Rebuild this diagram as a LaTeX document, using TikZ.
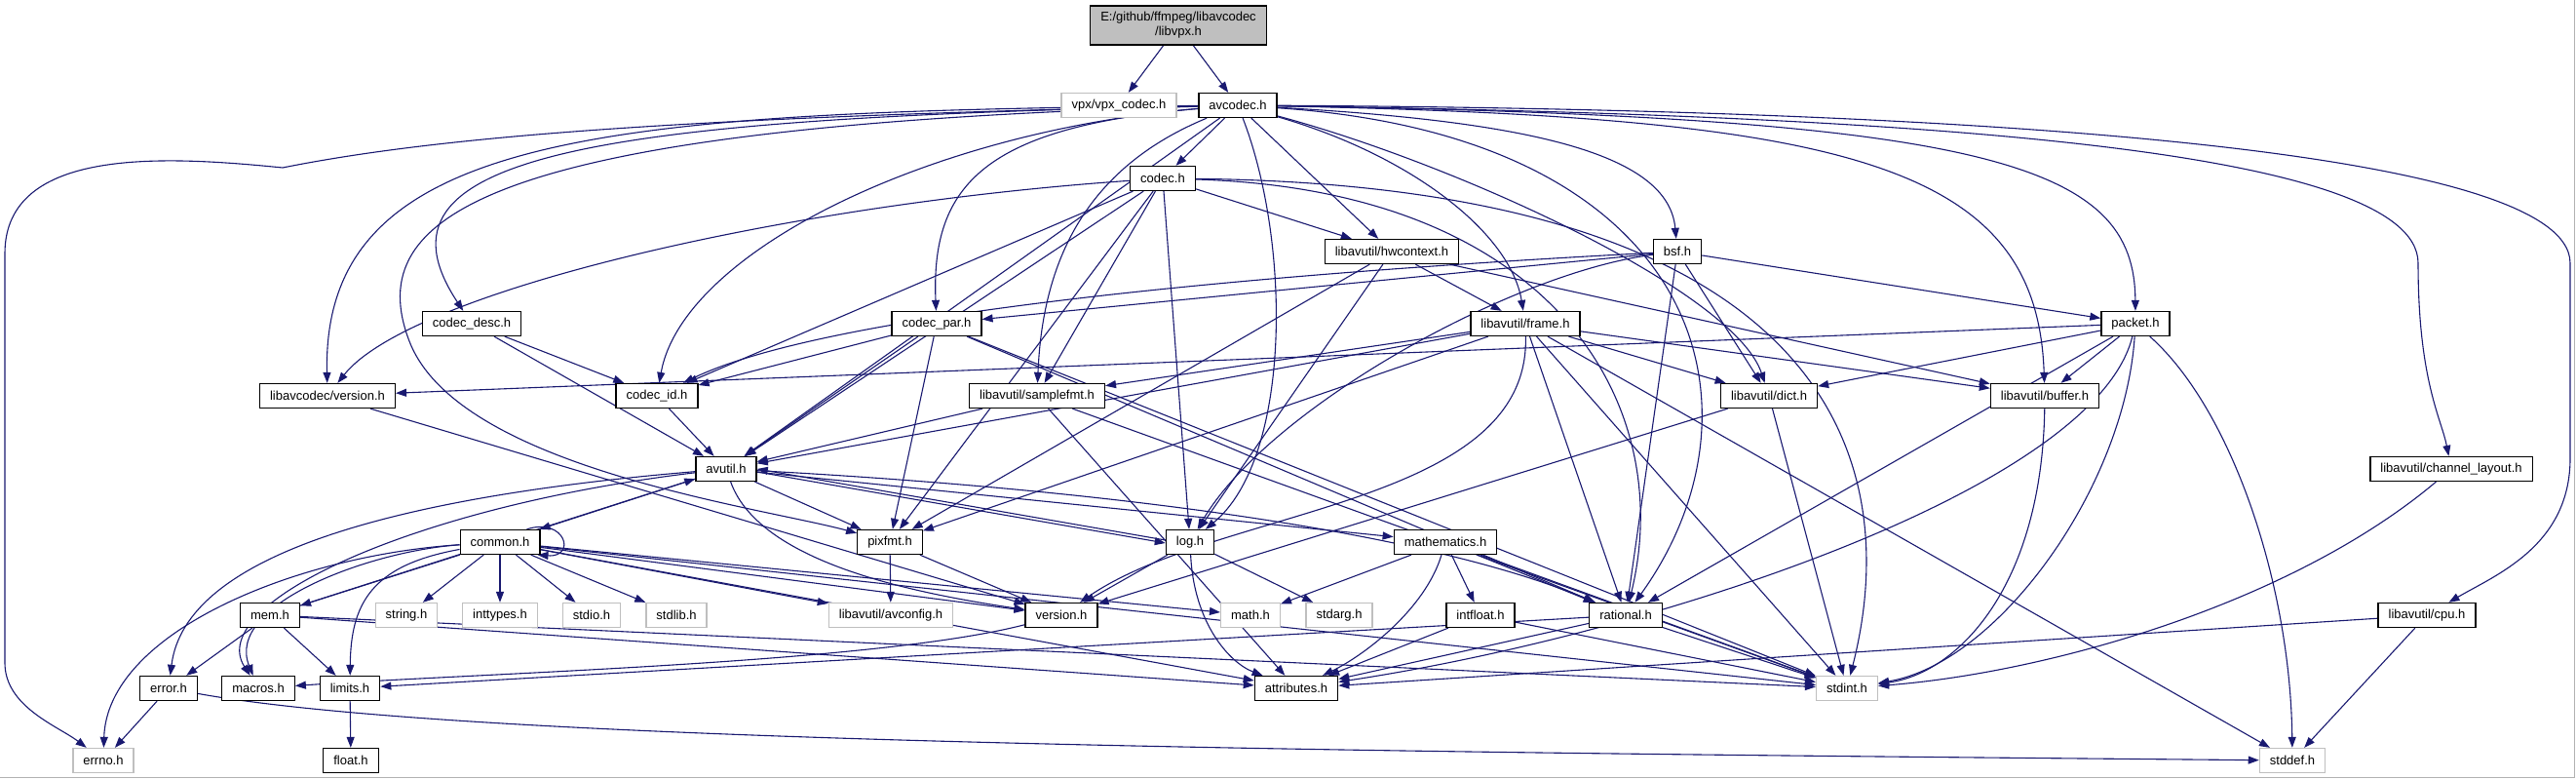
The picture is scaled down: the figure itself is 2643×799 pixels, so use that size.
\documentclass[tikz,border=0pt]{standalone}
\usepackage{fontspec}
\setmainfont{Liberation Sans}
\usepackage{tikz}
\usetikzlibrary{arrows.meta,backgrounds}
\definecolor{edgeblue}{RGB}{25,25,112}
\definecolor{extgrey}{RGB}{191,191,191}
\definecolor{framegrey}{RGB}{178,178,178}

\begin{document}
\begin{tikzpicture}[
        x=1pt,
        y=-1pt,
        dep edge/.style={edgeblue,line width=1.1pt,->,>={Triangle[length=11pt,width=8pt]}},
        file node/.style={draw=black,line width=1.3pt,fill=white,minimum height=25pt,
            inner xsep=10.5pt,inner ysep=0pt,font=\fontsize{13}{15}\selectfont},
        ext node/.style={file node,draw=extgrey},
        root node/.style={file node,fill=extgrey,minimum height=40pt,align=center}
    ]
        \useasboundingbox (0,0) rectangle (2643,799);

        % The edge of the captured frame.
        \draw[framegrey,line width=1.5pt] (2641.5,0) -- (2641.5,797.5) -- (0,797.5);

        % The file itself and the headers of the upper rows.
        \node[root node] (libvpx) at (1209,26) {E:/github/ffmpeg/libavcodec\\/libvpx.h};
        \node[ext node] (vpxcodec) at (1148,108) {vpx/vpx\_codec.h};
        \node[file node] (avcodec) at (1270,108) {avcodec.h};
        \node[file node] (codec) at (1193,183) {codec.h};
        \node[file node] (hwcontext) at (1428,258) {libavutil/hwcontext.h};
        \node[file node] (bsf) at (1721,258) {bsf.h};
        \node[file node] (codecdesc) at (484,332) {codec\_desc.h};
        \node[file node] (codecpar) at (961,332) {codec\_par.h};
        \node[file node] (frame) at (1565,332) {libavutil/frame.h};
        \node[file node] (packet) at (2191,332) {packet.h};
        \node[file node] (lavcversion) at (336,406) {libavcodec/version.h};
        \node[file node] (codecid) at (674,406) {codec\_id.h};
        \node[file node] (samplefmt) at (1064,406) {libavutil/samplefmt.h};
        \node[file node] (dict) at (1815,406) {libavutil/dict.h};
        \node[file node] (buffer) at (2098,406) {libavutil/buffer.h};

        % The libavutil headers and the system headers further down.
        \node[file node] (avutil) at (745,481) {avutil.h};
        \node[file node] (chlayout) at (2515,481) {libavutil/channel\_layout.h};
        \node[file node] (common) at (513,556) {common.h};
        \node[file node] (pixfmt) at (913,556) {pixfmt.h};
        \node[file node] (log) at (1221,556) {log.h};
        \node[file node] (mathematics) at (1483,556) {mathematics.h};
        \node[file node] (mem) at (277,631) {mem.h};
        \node[ext node] (stringh) at (417,631) {string.h};
        \node[ext node] (inttypes) at (513,631) {inttypes.h};
        \node[ext node] (stdio) at (607,631) {stdio.h};
        \node[ext node] (stdlib) at (694,631) {stdlib.h};
        \node[ext node] (avconfig) at (914,631) {libavutil/avconfig.h};
        \node[file node] (version) at (1089,631) {version.h};
        \node[ext node] (math) at (1283,631) {math.h};
        \node[ext node] (stdarg) at (1374,631) {stdarg.h};
        \node[file node] (intfloat) at (1519,631) {intfloat.h};
        \node[file node] (rational) at (1668,631) {rational.h};
        \node[file node] (cpu) at (2490,631) {libavutil/cpu.h};
        \node[file node] (error) at (173,706) {error.h};
        \node[file node] (macros) at (265,706) {macros.h};
        \node[file node] (limits) at (359,706) {limits.h};
        \node[file node] (attributes) at (1330,706) {attributes.h};
        \node[ext node] (stdint) at (1895,706) {stdint.h};
        \node[ext node] (errno) at (106,780) {errno.h};
        \node[file node] (float) at (360,780) {float.h};
        \node[ext node] (stddef) at (2352,780) {stddef.h};

        \begin{scope}[on background layer]
        % Includes of the file itself.
        \draw[dep edge] (libvpx) -- (vpxcodec);
        \draw[dep edge] (libvpx) -- (avcodec);

        % Includes of avcodec.h, the long ones bent round the sides.
        \draw[dep edge] (avcodec) .. controls (700,120) and (450,140) .. (290,172)
            .. controls (170,160) and (5,150) .. (5,260) -- (5,680)
            .. controls (5,725) and (60,745) .. (errno);
        \draw[dep edge] (avcodec) .. controls (2000,112) and (2637,150) .. (2637,270)
            -- (2637,470) .. controls (2637,560) and (2560,590) .. (cpu);
        \draw[dep edge] (avcodec) .. controls (1950,118) and (2481,150) .. (2481,270)
            .. controls (2481,390) and (2505,430) .. (chlayout);
        \draw[dep edge] (avcodec) .. controls (2050,120) and (2190,170) .. (packet);
        \draw[dep edge] (avcodec) .. controls (1900,120) and (2090,170) .. (buffer);
        \draw[dep edge] (avcodec) .. controls (1580,125) and (1712,160) .. (bsf);
        \draw[dep edge] (avcodec) .. controls (1500,170) and (1780,300) .. (dict);
        \draw[dep edge] (avcodec) .. controls (1750,140) and (1820,420) .. (rational);
        \draw[dep edge] (avcodec) .. controls (1450,160) and (1550,240) .. (frame);
        \draw[dep edge] (avcodec) .. controls (1325,250) and (1325,470) .. (log);
        \draw[dep edge] (avcodec) -- (hwcontext);
        \draw[dep edge] (avcodec) -- (codec);
        \draw[dep edge] (avcodec) .. controls (1120,170) and (1070,260) .. (samplefmt);
        \draw[dep edge] (avcodec) .. controls (1010,130) and (955,190) .. (codecpar);
        \draw[dep edge] (avcodec) -- (avutil);
        \draw[dep edge] (avcodec) .. controls (500,130) and (370,220) .. (420,350)
            .. controls (470,480) and (780,520) .. (pixfmt);
        \draw[dep edge] (avcodec) .. controls (950,135) and (700,260) .. (codecid);
        \draw[dep edge] (avcodec) .. controls (600,122) and (370,160) .. (codecdesc);
        \draw[dep edge] (avcodec) .. controls (620,115) and (330,135) .. (lavcversion);

        % Includes of codec.h.
        \draw[dep edge] (codec) -- (avutil);
        \draw[dep edge] (codec) -- (hwcontext);
        \draw[dep edge] (codec) -- (log);
        \draw[dep edge] (codec) -- (pixfmt);
        \draw[dep edge] (codec) -- (samplefmt);
        \draw[dep edge] (codec) -- (codecid);
        \draw[dep edge] (codec) .. controls (1600,195) and (1720,420) .. (rational);
        \draw[dep edge] (codec) .. controls (1850,190) and (1960,450) .. (stdint);
        \draw[dep edge] (codec) .. controls (800,210) and (420,300) .. (lavcversion);

        % Includes of the headers in the second and third rows.
        \draw[dep edge] (hwcontext) -- (buffer);
        \draw[dep edge] (hwcontext) -- (frame);
        \draw[dep edge] (hwcontext) -- (log);
        \draw[dep edge] (hwcontext) -- (pixfmt);
        \draw[dep edge] (bsf) -- (dict);
        \draw[dep edge] (bsf) .. controls (1550,280) and (1300,420) .. (log);
        \draw[dep edge] (bsf) -- (rational);
        \draw[dep edge] (bsf) .. controls (1300,280) and (850,320) .. (codecid);
        \draw[dep edge] (bsf) -- (codecpar);
        \draw[dep edge] (bsf) -- (packet);
        \draw[dep edge] (codecdesc) -- (avutil);
        \draw[dep edge] (codecdesc) -- (codecid);
        \draw[dep edge] (codecpar) -- (codecid);
        \draw[dep edge] (codecpar) -- (avutil);
        \draw[dep edge] (codecpar) -- (pixfmt);
        \draw[dep edge] (codecpar) -- (rational);
        \draw[dep edge] (codecpar) -- (stdint);
        \draw[dep edge] (frame) -- (avutil);
        \draw[dep edge] (frame) -- (buffer);
        \draw[dep edge] (frame) -- (dict);
        \draw[dep edge] (frame) -- (rational);
        \draw[dep edge] (frame) -- (samplefmt);
        \draw[dep edge] (frame) -- (pixfmt);
        \draw[dep edge] (frame) -- (stdint);
        \draw[dep edge] (frame) -- (stddef);
        \draw[dep edge] (frame) .. controls (1570,520) and (1250,520) .. (version);
        \draw[dep edge] (packet) -- (lavcversion);
        \draw[dep edge] (packet) -- (dict);
        \draw[dep edge] (packet) -- (buffer);
        \draw[dep edge] (packet) -- (rational);
        \draw[dep edge] (packet) .. controls (2150,500) and (1700,650) .. (attributes);
        \draw[dep edge] (packet) .. controls (2180,500) and (2050,680) .. (stdint);
        \draw[dep edge] (packet) .. controls (2290,420) and (2350,600) .. (stddef);

        % Includes of the fourth row.
        \draw[dep edge] (lavcversion) -- (version);
        \draw[dep edge] (codecid) -- (avutil);
        \draw[dep edge] (samplefmt) -- (avutil);
        \draw[dep edge] (samplefmt) -- (attributes);
        \draw[dep edge] (samplefmt) -- (stdint);
        \draw[dep edge] (dict) -- (version);
        \draw[dep edge] (dict) -- (stdint);
        \draw[dep edge] (buffer) .. controls (2095,600) and (2010,690) .. (stdint);

        % Includes of avutil.h and of the channel layout header.
        \draw[dep edge] (avutil) -- (common);
        \draw[dep edge] (avutil) .. controls (400,510) and (190,570) .. (error);
        \draw[dep edge] (avutil) .. controls (420,520) and (210,620) .. (macros);
        \draw[dep edge] (avutil) .. controls (780,580) and (950,610) .. (version);
        \draw[dep edge] (avutil) .. controls (1100,500) and (1450,540) .. (rational);
        \draw[dep edge] (avutil) -- (mathematics);
        \draw[dep edge] (avutil) -- (pixfmt);
        \draw[dep edge] ([yshift=-3pt]avutil.east) -- ([yshift=-1pt]log.west);
        \draw[dep edge] ([yshift=2pt]log.west) -- ([yshift=0pt]avutil.east);
        \draw[dep edge] (chlayout) .. controls (2350,620) and (2100,690) .. (stdint);

        % Includes of common.h, the loop onto itself too.
        \draw[dep edge] ([xshift=-14pt]common.north east) .. controls (580,530) and (592,572)
            .. ([xshift=-3pt]common.south east);
        \draw[dep edge] (common) .. controls (300,570) and (110,650) .. (errno);
        \draw[dep edge] (common) .. controls (380,565) and (230,620) .. (macros);
        \draw[dep edge] (common) .. controls (380,580) and (360,620) .. (limits);
        \draw[dep edge] (common) -- (mem);
        \draw[dep edge] (common) -- (stringh);
        \draw[dep edge] (common) -- (inttypes);
        \draw[dep edge] (common) -- (stdio);
        \draw[dep edge] (common) -- (stdlib);
        \draw[dep edge] (common) -- (avconfig);
        \draw[dep edge] (common) -- (version);
        \draw[dep edge] (common) -- (math);
        \draw[dep edge] (common) -- (attributes);
        \draw[dep edge] (common) -- (stdint);

        % Includes of the remaining libavutil headers.
        \draw[dep edge] (pixfmt) -- (avconfig);
        \draw[dep edge] (pixfmt) -- (version);
        \draw[dep edge] (log) -- (version);
        \draw[dep edge] (log) .. controls (1225,640) and (1262,680) .. (attributes);
        \draw[dep edge] (log) -- (stdarg);
        \draw[dep edge] (mathematics) -- (math);
        \draw[dep edge] (mathematics) .. controls (1462,625) and (1400,672) .. (attributes);
        \draw[dep edge] (mathematics) -- (intfloat);
        \draw[dep edge] (mathematics) -- (rational);
        \draw[dep edge] (mathematics) -- (stdint);
        \draw[dep edge] (mem) -- (avutil);
        \draw[dep edge] (mem) -- (error);
        \draw[dep edge] (mem) -- (limits);
        \draw[dep edge] (mem) -- (attributes);
        \draw[dep edge] (mem) -- (stdint);
        \draw[dep edge] (version) .. controls (900,680) and (500,690) .. (macros);
        \draw[dep edge] (intfloat) -- (attributes);
        \draw[dep edge] (intfloat) -- (stdint);
        \draw[dep edge] (rational) -- (attributes);
        \draw[dep edge] (rational) -- (stdint);
        \draw[dep edge] (rational) -- (limits);
        \draw[dep edge] (cpu) -- (attributes);
        \draw[dep edge] (cpu) -- (stddef);
        \draw[dep edge] (error) -- (errno);
        \draw[dep edge] (error) .. controls (500,765) and (1500,772) .. (stddef);
        \draw[dep edge] (limits) -- (float);
        \end{scope}
    \end{tikzpicture}
\end{document}
